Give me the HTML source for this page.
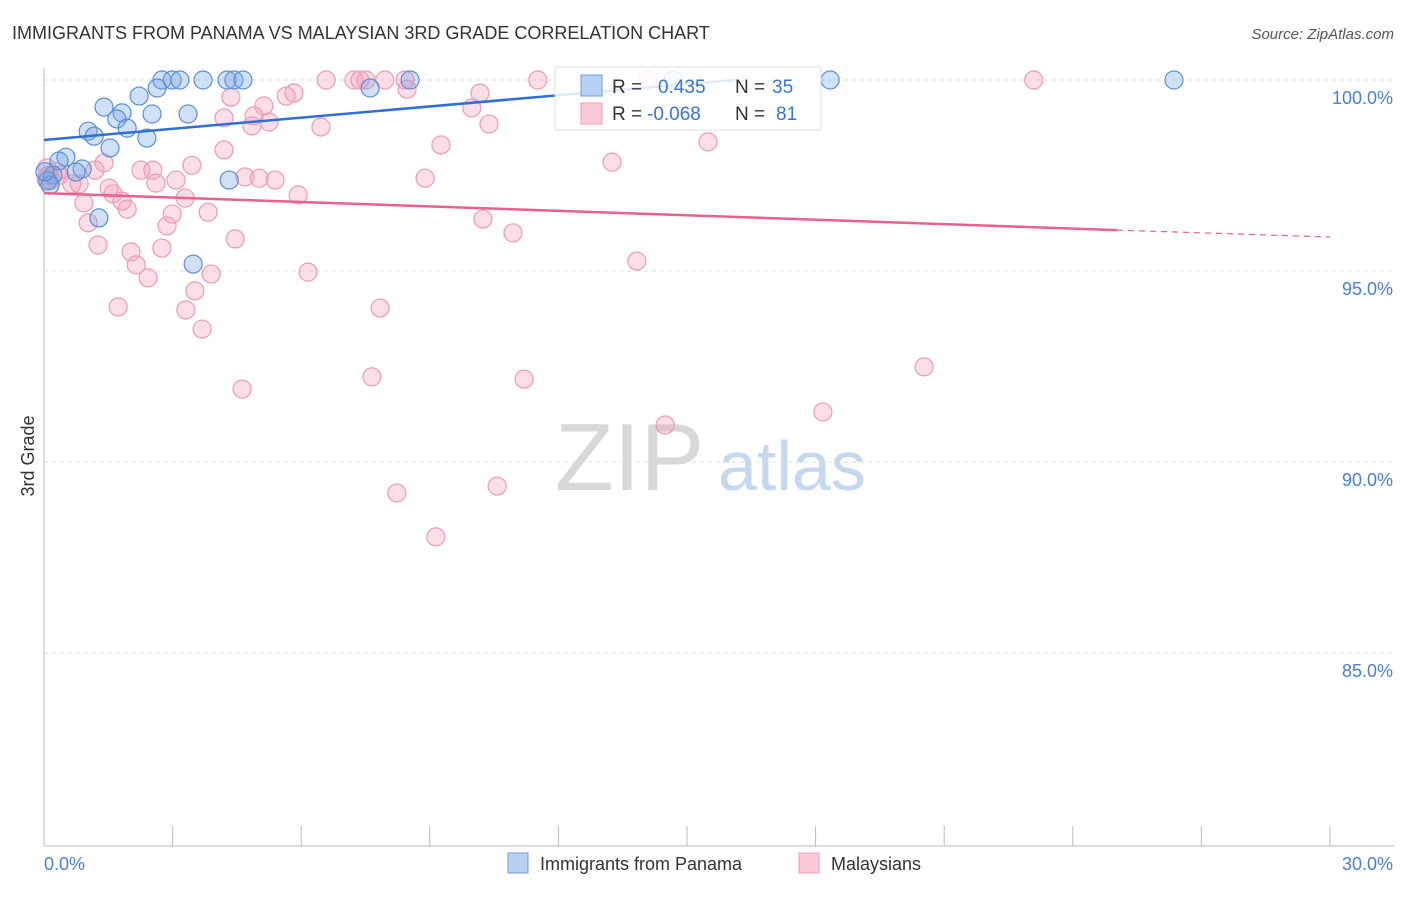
<!DOCTYPE html>
<html><head><meta charset="utf-8"><style>
body{margin:0;background:#fff;font-family:"Liberation Sans",sans-serif;}
svg text{font-family:"Liberation Sans",sans-serif;}
</style></head><body>
<svg id="c" width="1406" height="892" xmlns="http://www.w3.org/2000/svg">
<text x="12" y="39" font-size="18" fill="#333">IMMIGRANTS FROM PANAMA VS MALAYSIAN 3RD GRADE CORRELATION CHART</text>
<text x="1394" y="39" font-size="15" fill="#555" font-style="italic" text-anchor="end">Source: ZipAtlas.com</text>
<text x="555" y="490" font-size="96" fill="#d8d8d8" font-family="Liberation Serif">ZIP</text>
<text x="718" y="490" font-size="70" fill="#c5d8f0">atlas</text>
<text transform="translate(34,456) rotate(-90)" font-size="18" fill="#333" text-anchor="middle">3rd Grade</text>
<g id="grid"></g><g id="pts"></g><g id="lines"></g>
<g>
<rect x="555" y="67" width="266" height="63" fill="#fff" fill-opacity="0.85" stroke="#ddd"/>
<rect x="581" y="75" width="21" height="21" fill="#b8d1f3" stroke="#6f9de0"/>
<rect x="581" y="103" width="21" height="21" fill="#fbc8d6" stroke="#ee9fb7"/>
<text x="612" y="93" font-size="19" fill="#333">R = </text><text x="658" y="93" font-size="19" fill="#3a74cf">0.435</text>
<text x="735" y="93" font-size="19" fill="#333">N = </text><text x="772" y="93" font-size="19" fill="#3a74cf">35</text>
<text x="612" y="120" font-size="19" fill="#333">R = </text><text x="647" y="120" font-size="19" fill="#3a74cf">-0.068</text>
<text x="735" y="120" font-size="19" fill="#333">N = </text><text x="776" y="120" font-size="19" fill="#3a74cf">81</text>
</g>
<g>
<rect x="508" y="853" width="20" height="20" fill="#b8d1f3" stroke="#6f9de0"/>
<text x="540" y="870" font-size="18" fill="#333">Immigrants from Panama</text>
<rect x="799" y="853" width="20" height="20" fill="#fbc8d6" stroke="#ee9fb7"/>
<text x="831" y="870" font-size="18" fill="#333">Malaysians</text>
</g>
</svg>
<script>
const xTicks=[0,3,6,9,12,15,18,21,24,27,30];
const yTicks=[85,90,95,100];
const yTickLabels=["85.0%","90.0%","95.0%","100.0%"];
const blueX=[2.75,2.99,3.17,3.71,4.27,4.43,4.64,8.54,18.34,26.36,2.64,2.22,1.40,1.82,1.70,2.52,3.36,1.03,1.17,1.94,2.40,1.54,0.51,0.35,0.89,0.75,0.21,0.09,0.14,4.32,1.28,3.48,7.61,14.68,0.02];
const blueY=[100,100,100,100,100,100,100,100,100,100,99.79,99.58,99.29,99.14,98.98,99.11,99.11,98.66,98.53,98.74,98.48,98.22,97.98,97.88,97.67,97.59,97.51,97.36,97.25,97.38,96.39,95.18,99.79,100,97.6];
const pinkX=[23.09,11.52,6.58,7.23,7.37,7.51,7.95,8.42,14.09,4.36,5.13,5.83,5.65,8.47,10.17,9.98,4.20,4.90,5.25,4.85,6.46,10.38,15.49,9.26,4.20,13.25,3.45,2.26,2.54,1.40,1.19,0.07,0.16,0.37,0.65,0.82,4.69,5.02,5.39,3.08,2.61,8.89,1.52,1.61,1.82,1.94,0.93,5.93,3.29,2.99,1.03,2.87,3.83,10.24,10.94,4.46,1.26,2.03,2.75,2.15,2.43,6.16,3.90,13.83,3.52,1.73,3.31,7.84,3.69,20.53,4.62,7.65,11.20,18.17,14.49,8.23,10.57,9.14,0.1,0.3,0.05];
const pinkY=[100,100,100,100,100,100,100,100,100,99.55,99.32,99.66,99.58,99.76,99.66,99.27,99.01,99.06,98.90,98.80,98.77,98.85,98.38,98.30,98.17,97.85,97.77,97.64,97.64,97.83,97.64,97.70,97.38,97.51,97.28,97.28,97.46,97.43,97.38,97.38,97.30,97.43,97.17,97.02,96.83,96.62,96.78,96.99,96.91,96.49,96.26,96.18,96.54,96.36,96.0,95.84,95.68,95.50,95.60,95.16,94.82,94.97,94.92,95.26,94.48,94.06,93.98,94.03,93.48,92.49,91.91,92.23,92.17,91.31,90.97,89.19,89.37,88.04,97.5,97.6,97.4];
const blueTrend=[[0,98.43],[16.1,100]];
const pinkTrend=[[0,97.04],[25.03,96.07]];
const pinkTrendExt=[[25.03,96.07],[30,95.89]];
const NS="http://www.w3.org/2000/svg";
const X=v=>44+v/30*1286;
const Y=v=>80+(100-v)/5*191;
function mk(t,a,p){const e=document.createElementNS(NS,t);for(const k in a)e.setAttribute(k,a[k]);p.appendChild(e);return e;}
const grid=document.getElementById('grid');
const ax=mk('line',{x1:44,y1:68,x2:44,y2:846,stroke:'#bbb'},grid);


const bx=mk('line',{x1:44,y1:846,x2:1394,y2:846,stroke:'#bbb'},grid);


yTicks.forEach((t,i)=>{
 const g=mk('line',{x1:44,y1:Y(t),x2:1394,y2:Y(t),stroke:'#ddd','stroke-dasharray':'4,4'},grid);
 
 
 const l=mk('text',{x:1393,y:Y(t)+24,'font-size':18,fill:'#4a7fd4','text-anchor':'end'},grid);
 l.textContent=yTickLabels[i];
 
 
});
xTicks.forEach(t=>{
 const k=mk('line',{x1:X(t),y1:826,x2:X(t),y2:846,stroke:'#bbb'},grid);
 
 
});
const xl0=mk('text',{x:44,y:870,'font-size':18,fill:'#4a7fd4'},grid);xl0.textContent=xTicks[0].toFixed(1)+'%';


const xl1=mk('text',{x:1393,y:870,'font-size':18,fill:'#4a7fd4','text-anchor':'end'},grid);xl1.textContent=xTicks[xTicks.length-1].toFixed(1)+'%';


const pts=document.getElementById('pts');
pinkX.forEach((x,i)=>{
 const c=mk('circle',{cx:X(x),cy:Y(pinkY[i]),r:9,fill:'rgba(244,160,188,0.35)',stroke:'#eb9bb5','stroke-width':1.2},pts);
 
 
});
blueX.forEach((x,i)=>{
 const c=mk('circle',{cx:X(x),cy:Y(blueY[i]),r:9,fill:'rgba(120,165,230,0.35)',stroke:'#5b8ed8','stroke-width':1.2},pts);
 
 
});
const lines=document.getElementById('lines');
const bl=mk('line',{x1:X(blueTrend[0][0]),y1:Y(blueTrend[0][1]),x2:X(blueTrend[1][0]),y2:Y(blueTrend[1][1]),stroke:'#2f6fd6','stroke-width':2.5},lines);


const pl=mk('line',{x1:X(pinkTrend[0][0]),y1:Y(pinkTrend[0][1]),x2:X(pinkTrend[1][0]),y2:Y(pinkTrend[1][1]),stroke:'#e8628f','stroke-width':2.5},lines);


const pe=mk('line',{x1:X(pinkTrendExt[0][0]),y1:Y(pinkTrendExt[0][1]),x2:X(pinkTrendExt[1][0]),y2:Y(pinkTrendExt[1][1]),stroke:'#e8628f','stroke-width':1.2,'stroke-dasharray':'6,5'},lines);


</script>
</body></html>
